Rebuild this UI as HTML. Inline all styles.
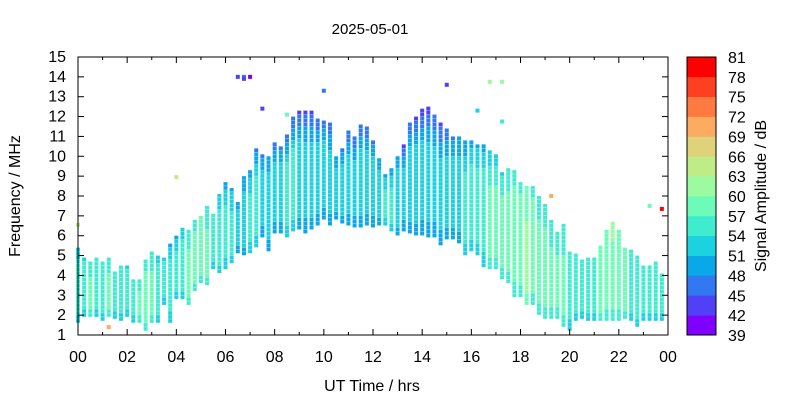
<!DOCTYPE html>
<html><head><meta charset="utf-8"><style>
body{margin:0;background:#fff}
svg{display:block;font-family:"Liberation Sans",sans-serif}
</style></head><body>
<svg id="chart" width="800" height="400" viewBox="0 0 800 400">
<text x="370" y="34" font-size="15" text-anchor="middle">2025-05-01</text>
<text x="372" y="391" font-size="16" text-anchor="middle">UT Time / hrs</text>
<text transform="translate(20,196) rotate(-90)" font-size="16" text-anchor="middle">Frequency / MHz</text>
<text transform="translate(766,196) rotate(-90)" font-size="16" text-anchor="middle">Signal Amplitude / dB</text>
<g id="marks"></g>
<g id="axes"></g>
<g id="cbar"></g>
</svg>
<script>
const times=[0,0.25,0.5,0.75,1,1.25,1.5,1.75,2,2.25,2.5,2.75,3,3.25,3.5,3.75,4,4.25,4.5,4.75,5,5.25,5.5,5.75,6,6.25,6.5,6.75,7,7.25,7.5,7.75,8,8.25,8.5,8.75,9,9.25,9.5,9.75,10,10.25,10.5,10.75,11,11.25,11.5,11.75,12,12.25,12.5,12.75,13,13.25,13.5,13.75,14,14.25,14.5,14.75,15,15.25,15.5,15.75,16,16.25,16.5,16.75,17,17.25,17.5,17.75,18,18.25,18.5,18.75,19,19.25,19.5,19.75,20,20.25,20.5,20.75,21,21.25,21.5,21.75,22,22.25,22.5,22.75,23,23.25,23.5,23.75];
const lowFreq=[1.6,1.9,1.9,1.9,1.7,1.9,1.8,1.7,1.9,1.6,1.6,1.2,1.6,1.6,2.5,1.6,2.8,2.8,2.5,3.2,3.6,3.5,4.3,4.1,4.3,4.6,5.1,5.0,5.1,5.4,5.9,5.2,6.1,6.1,5.9,6.2,6.3,6.1,6.3,6.5,6.8,6.5,6.8,6.6,6.5,6.4,6.4,6.5,6.4,6.5,6.5,6.2,6.0,6.2,6.1,6.0,6.0,5.9,5.9,5.5,5.8,5.8,5.6,5.0,5.2,5.0,4.4,4.3,4.3,3.8,3.6,2.9,2.9,2.5,2.5,2.0,1.8,1.8,1.8,1.4,1.2,1.7,1.8,1.7,1.7,1.7,1.7,1.7,1.7,1.8,1.7,1.4,1.7,1.7,1.7,1.7];
const highFreq=[5.3,4.8,4.7,4.9,4.7,4.8,4.1,4.5,4.5,3.8,3.8,4.7,5.1,4.9,4.9,5.6,5.9,6.3,6.3,6.7,7.0,7.4,7.0,8.0,8.6,8.3,7.6,9.0,9.2,10.4,10.1,9.9,10.6,10.5,11.1,12.0,12.3,12.3,12.2,11.9,11.8,11.6,10.0,10.3,11.3,10.9,11.6,11.4,10.8,9.9,9.0,9.3,10.0,10.5,11.7,12.0,12.4,12.4,12.0,11.7,11.4,10.9,10.9,10.8,10.8,10.6,10.5,10.3,10.1,9.2,9.3,9.3,8.6,8.5,8.4,7.9,7.5,6.7,6.1,6.5,5.2,5.0,4.8,4.9,4.9,5.5,6.2,6.6,6.2,5.4,5.3,5.0,4.5,4.4,4.6,4.0];
const colAmp=[56,56,57,56,56,57,56,56,55,56,57,58,57,56,56,55,55,56,57,58,58,57,56,55,54,54,53,53,54,54,53,53,53,53,54,54,53,52,52,52,53,52,53,53,52,52,53,53,53,53,54,54,53,52,53,53,52,52,52,51,52,53,53,54,55,55,56,57,57,58,58,59,59,60,59,58,58,57,57,57,56,56,56,56,56,57,58,59,58,57,56,56,55,55,55,55];
const topAmp=[52,53,54,54,54,54,55,54,53,54,55,55,54,53,53,50,50,52,54,56,57,55,54,52,50,50,49,47,49,46,47,48,46,47,45,44,43,44,44,45,46,45,47,47,45,45,44,45,46,48,50,49,47,44,45,43,43,43,45,44,45,47,48,48,49,50,50,51,52,53,54,55,56,57,56,55,55,55,55,55,55,56,56,56,56,57,60,62,60,57,56,56,55,55,55,55];
const outTimes=[6.5,6.75,6.75,7,7.5,10,8.5,4,15,16.75,17.25,16.25,17.25,19.25,23.25,23.75,1.25,0];
const outFreqs=[14,14,13.9,14,12.4,13.3,12.1,8.95,13.6,13.75,13.75,12.3,11.75,8.0,7.5,7.35,1.4,6.55];
const outAmps=[44,46,42,40,42,46,57,63,42,61,61,51,55,70,57,79,70,63];
const cbLevels=[39,42,45,48,51,54,57,60,63,66,69,72,75,78,81];
const cbColors=["#7f00ff","#5040f6","#3278f2","#0aa8e8","#1cd2e0","#40ecd0","#6cfcb8","#9cfaa0","#c0ec88","#e0d27a","#fcac60","#ff7a40","#ff4020","#ff0000"];
const xTicks=["00","02","04","06","08","10","12","14","16","18","20","22","00"];

const NS="http://www.w3.org/2000/svg";
const X0=78,X1=668,Y0=335,Y1=57;
const xs=t=>X0+(t/24)*(X1-X0);
const ys=f=>Y0-((f-1)/14)*(Y0-Y1);
function color(a){let i=Math.floor((a-39)/3);i=Math.max(0,Math.min(13,i));return cbColors[i];}
function mk(tag,attrs,parent){const e=document.createElementNS(NS,tag);for(const k in attrs)e.setAttribute(k,attrs[k]);parent.appendChild(e);return e;}
const marks=document.getElementById('marks');
const step=0.2;
times.forEach((t,i)=>{
  const g=mk('g',{},marks);
  
  
  const lo=lowFreq[i],hi=highFreq[i];
  for(let f=lo;f<hi-0.01;f+=step){
    const tt=(f-lo)/(hi-lo);
    let a=colAmp[i];
    if(tt>0.7)a=colAmp[i]+(topAmp[i]-colAmp[i])*((tt-0.7)/0.3);
    else if(tt<0.1)a=colAmp[i]-3;
    const r=mk('rect',{x:xs(t)-2,y:ys(f+step),width:4,height:(ys(f)-ys(f+step))-0.3,fill:color(a)},g);
    
    
  }
});
outTimes.forEach((t,i)=>{
  const r=mk('rect',{x:xs(t)-2,y:ys(outFreqs[i])-2,width:4,height:4,fill:color(outAmps[i])},marks);
  
  
});
const ax=document.getElementById('axes');
mk('rect',{x:X0,y:Y1,width:X1-X0,height:Y0-Y1,fill:'none',stroke:'#000','stroke-width':1},ax);
for(let f=1;f<=15;f++){
  const y=ys(f);
  mk('line',{x1:X0,x2:X0+6,y1:y,y2:y,stroke:'#000'},ax);
  mk('line',{x1:X1,x2:X1-6,y1:y,y2:y,stroke:'#000'},ax);
  const tx=mk('text',{x:X0-12,y:y+5,'font-size':16,'text-anchor':'end'},ax);
  tx.textContent=f;
  
  
}
for(let h=0;h<=24;h++){
  const x=xs(h),L=h%2===0?6:3;
  mk('line',{x1:x,x2:x,y1:Y0,y2:Y0-L,stroke:'#000'},ax);
  mk('line',{x1:x,x2:x,y1:Y1,y2:Y1+L,stroke:'#000'},ax);
  if(h%2===0){
    const tx=mk('text',{x:x,y:Y0+27,'font-size':16,'text-anchor':'middle'},ax);
    tx.textContent=xTicks[h/2];
    
    
  }
}
const cb=document.getElementById('cbar');
const CX=687,CW=29;
const cy=v=>Y0-((v-39)/42)*(Y0-Y1);
cbColors.forEach((c,i)=>{
  const r=mk('rect',{x:CX,y:cy(cbLevels[i+1]),width:CW,height:cy(cbLevels[i])-cy(cbLevels[i+1])+0.3,fill:c},cb);
  
  
});
mk('rect',{x:CX,y:Y1,width:CW,height:Y0-Y1,fill:'none',stroke:'#000'},cb);
cbLevels.forEach(v=>{
  const tx=mk('text',{x:CX+CW+12,y:cy(v)+6,'font-size':16},cb);
  tx.textContent=v;
  
  
});
</script>
</body></html>
